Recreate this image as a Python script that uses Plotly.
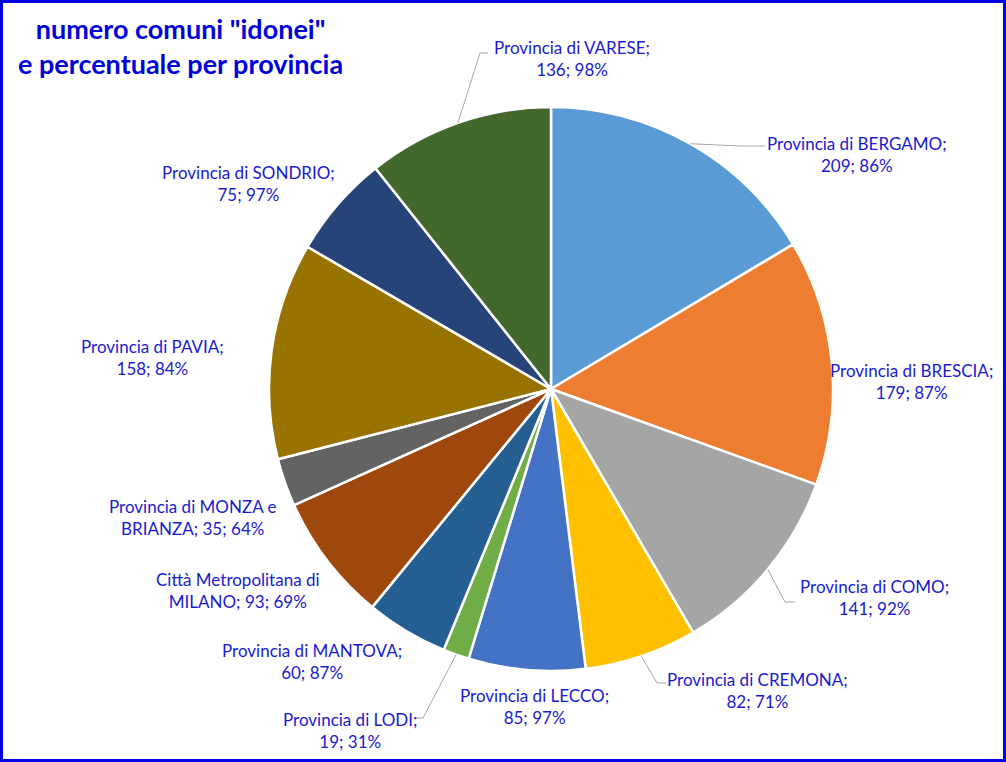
import numpy as np
import plotly.graph_objects as go

# ---- data ----
provinces = ["Provincia di BERGAMO", "Provincia di BRESCIA", "Provincia di COMO",
             "Provincia di CREMONA", "Provincia di LECCO", "Provincia di LODI",
             "Provincia di MANTOVA", "Città Metropolitana di MILANO",
             "Provincia di MONZA e BRIANZA", "Provincia di PAVIA",
             "Provincia di SONDRIO", "Provincia di VARESE"]
comuni = [209, 179, 141, 82, 85, 19, 60, 93, 35, 158, 75, 136]
percent = [86, 87, 92, 71, 97, 31, 87, 69, 64, 84, 97, 98]

# ---- style / layout ----
colors = ["#5B9BD5", "#ED7D31", "#A5A5A5", "#FFC000", "#4472C4", "#70AD47",
          "#255E91", "#9E480E", "#636363", "#997300", "#264478", "#43682B"]
W, H = 1006, 762
CX, CY, R = 551, 389, 282
TXT = "#1A1AD0"
FONT = "Lato, 'Open Sans', sans-serif"

# label centres in pixels (layout)
label_pos = [(857, 155), (911, 381), (874, 597), (757, 690), (534, 706),
             (350, 730), (312, 661), (238, 590), (192, 517), (152, 357),
             (248, 183), (572, 58)]
# leader lines: elbow point and end point (pixels), None = no leader
leaders = [((740, 146), (765, 146)), None, ((785, 602), (795, 602)),
           ((657, 683), (666, 683)), None, ((423, 718), (414, 718)),
           None, None, None, None, None, ((480, 53), (488, 53))]


def px(x):
    return x / W


def py(y):
    return 1 - y / H


fig = go.Figure(go.Pie(
    labels=provinces, values=comuni, sort=False, direction="clockwise",
    rotation=0, textinfo="none", hoverinfo="label+value",
    marker=dict(colors=colors, line=dict(color="white", width=2.5)),
    domain=dict(x=[px(CX - R), px(CX + R)], y=[py(CY + R), py(CY - R)]),
    showlegend=False,
))

annotations = []
shapes = []
total = float(sum(comuni))
cum = np.cumsum([0] + comuni)
for i, name in enumerate(provinces):
    if name.startswith("Città"):
        txt = "Città Metropolitana di<br>MILANO; {v}; {q}%".format(v=comuni[i], q=percent[i])
    elif "MONZA" in name:
        txt = "Provincia di MONZA e<br>BRIANZA; {v}; {q}%".format(v=comuni[i], q=percent[i])
    else:
        txt = "{p};<br>{v}; {q}%".format(p=name, v=comuni[i], q=percent[i])
    lx, ly = label_pos[i]
    annotations.append(dict(x=px(lx), y=py(ly), xref="paper", yref="paper",
                            text=txt, showarrow=False, align="center",
                            xanchor="center", yanchor="middle",
                            font=dict(family=FONT, size=17, color=TXT)))
    if leaders[i] is not None:
        mid = (cum[i] + comuni[i] / 2) / total * 2 * np.pi
        sx, sy = CX + R * np.sin(mid), CY - R * np.cos(mid)
        (ex, ey), (fx, fy) = leaders[i]
        path = "M {:.4f} {:.4f} L {:.4f} {:.4f} L {:.4f} {:.4f}".format(
            px(sx), py(sy), px(ex), py(ey), px(fx), py(fy))
        shapes.append(dict(type="path", xref="paper", yref="paper", path=path,
                           line=dict(color="#A6A6A6", width=1)))

annotations.append(dict(x=px(180), y=py(46), xref="paper", yref="paper",
                        text="<b>numero comuni \"idonei\"<br>e percentuale per provincia</b>",
                        showarrow=False, align="center", xanchor="center", yanchor="middle",
                        font=dict(family=FONT, size=27, color="#0000DD")))

shapes.append(dict(type="rect", xref="paper", yref="paper",
                   x0=px(1.5), x1=px(W - 1.5), y0=py(H - 1.5), y1=py(1.5),
                   line=dict(color="#0000E6", width=3), fillcolor="rgba(0,0,0,0)"))

fig.update_layout(width=W, height=H, margin=dict(l=0, r=0, t=0, b=0),
                  paper_bgcolor="white", plot_bgcolor="white",
                  annotations=annotations, shapes=shapes)

fig.write_html("out.html")
